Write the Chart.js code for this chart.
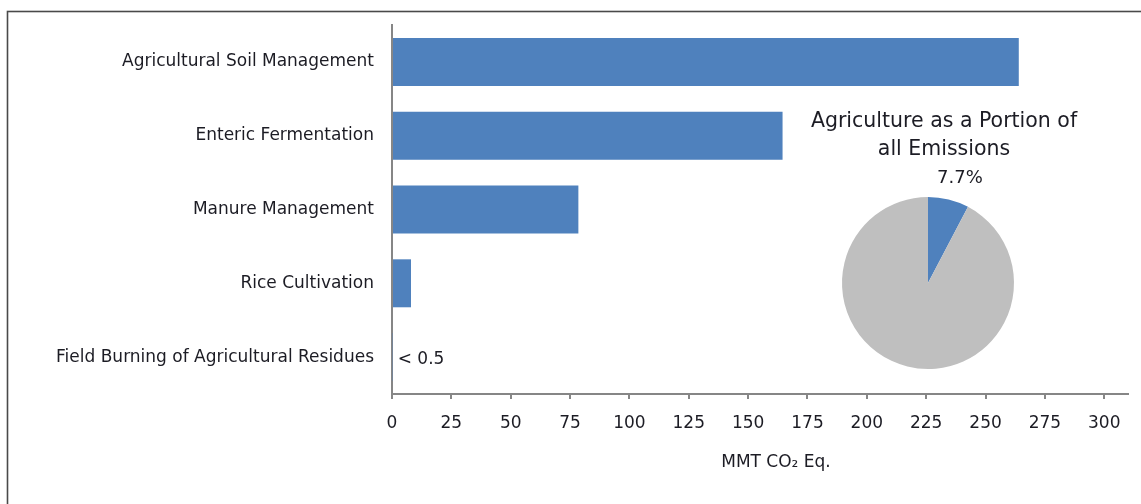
<!DOCTYPE html>
<html>
<head>
<meta charset="utf-8">
<script src="https://cdn.jsdelivr.net/npm/chart.js@4.4.1/dist/chart.umd.min.js"></script>
<style>
  html, body { margin: 0; padding: 0; background: #ffffff; }
  #wrap { position: relative; width: 1141px; height: 504px; overflow: hidden; }
  #bar { position: absolute; left: 0; top: 0; }
  #pie { position: absolute; left: 800px; top: 100px; }
</style>
</head>
<body>
<div id="wrap">
  <canvas id="bar" width="1141" height="504"></canvas>
  <canvas id="pie" width="300" height="290"></canvas>
</div>
<script>
// ---- data ----
const categories = [
  'Agricultural Soil Management',
  'Enteric Fermentation',
  'Manure Management',
  'Rice Cultivation',
  'Field Burning of Agricultural Residues'
];
const emissions = [264, 164.5, 78.5, 8, 0.3];
const valueLabels = ['', '', '', '', '< 0.5'];
const xTicks = [0, 25, 50, 75, 100, 125, 150, 175, 200, 225, 250, 275, 300];
const axisTitle = 'MMT CO\u2082 Eq.';

const pieLabels = ['Agriculture', 'All other emissions'];
const pieValues = [7.7, 92.3];
const pieTitle = ['Agriculture as a Portion of', 'all Emissions'];

// ---- styles ----
const FONT = '"DejaVu Sans", Verdana, sans-serif';
const TEXT = '#1c1c24';
const BLUE = '#4f81bd';
const GREY = '#bfbfbf';
const AXIS = '#868686';

const framePlugin = {
  id: 'frame',
  beforeDraw(chart) {
    const ctx = chart.ctx;
    ctx.save();
    ctx.strokeStyle = '#4a4a4a';
    ctx.lineWidth = 1.6;
    ctx.strokeRect(7.5, 11.5, 1300, 600);
    ctx.restore();
  }
};

const barExtras = {
  id: 'barExtras',
  afterDatasetsDraw(chart) {
    const ctx = chart.ctx;
    const meta = chart.getDatasetMeta(0);
    ctx.save();
    ctx.font = '17px ' + FONT;
    ctx.fillStyle = TEXT;
    ctx.textAlign = 'left';
    ctx.textBaseline = 'middle';
    meta.data.forEach((bar, i) => {
      if (valueLabels[i]) ctx.fillText(valueLabels[i], bar.x + 5, bar.y + 2);
    });
    // axis title
    const ca = chart.chartArea;
    ctx.textAlign = 'center';
    ctx.fillText(axisTitle, (ca.left + ca.right) / 2 + 16, 463);
    ctx.restore();
  }
};

new Chart(document.getElementById('bar'), {
  type: 'bar',
  data: {
    labels: categories,
    datasets: [{
      data: emissions,
      backgroundColor: BLUE,
      borderWidth: 0,
      categoryPercentage: 1,
      barPercentage: 0.65
    }]
  },
  options: {
    indexAxis: 'y',
    responsive: false,
    animation: false,
    events: [],
    layout: { padding: { left: 0, top: 25, right: 13, bottom: 0 } },
    plugins: { legend: { display: false }, tooltip: { enabled: false } },
    scales: {
      x: {
        min: 0,
        max: 310,
        afterBuildTicks(scale) {
          scale.ticks = xTicks.map(v => ({ value: v }));
        },
        afterFit(scale) {
          scale.height = 110;
          scale.paddingLeft = 0;
          scale.paddingRight = 0;
        },
        ticks: {
          stepSize: 25,
          color: TEXT,
          font: { family: FONT, size: 17 },
          padding: 14,
          maxRotation: 0,
          autoSkip: false
        },
        grid: {
          display: true,
          drawOnChartArea: false,
          drawTicks: true,
          tickLength: 5,
          color: AXIS,
          lineWidth: 2
        },
        border: { display: true, color: AXIS, width: 2 }
      },
      y: {
        afterFit(scale) {
          scale.width = 392;
          scale.paddingTop = 0;
          scale.paddingBottom = 0;
        },
        ticks: {
          color: TEXT,
          font: { family: FONT, size: 17 },
          padding: 18,
          autoSkip: false
        },
        grid: { display: false, drawTicks: false },
        border: { display: true, color: AXIS, width: 2 }
      }
    }
  },
  plugins: [framePlugin, barExtras]
});

const pieExtras = {
  id: 'pieExtras',
  afterDraw(chart) {
    const ctx = chart.ctx;
    ctx.save();
    ctx.fillStyle = TEXT;
    ctx.textAlign = 'center';
    ctx.textBaseline = 'middle';
    ctx.font = '20.5px ' + FONT;
    ctx.fillText(pieTitle[0], 144, 22);
    ctx.fillText(pieTitle[1], 144, 50);
    const arc = chart.getDatasetMeta(0).data[0];
    const mid = (arc.startAngle + arc.endAngle) / 2;
    const r = arc.outerRadius + 22;
    ctx.font = '18px ' + FONT;
    ctx.fillText(pieValues[0] + '%', arc.x + Math.cos(mid) * r + 6, arc.y + Math.sin(mid) * r);
    ctx.restore();
  }
};

new Chart(document.getElementById('pie'), {
  type: 'pie',
  data: {
    labels: pieLabels,
    datasets: [{
      data: pieValues,
      backgroundColor: [BLUE, GREY],
      borderWidth: 0
    }]
  },
  options: {
    responsive: false,
    animation: false,
    events: [],
    layout: { padding: { left: 42, right: 86, top: 97, bottom: 21 } },
    plugins: { legend: { display: false }, tooltip: { enabled: false } }
  },
  plugins: [pieExtras]
});
</script>
</body>
</html>
